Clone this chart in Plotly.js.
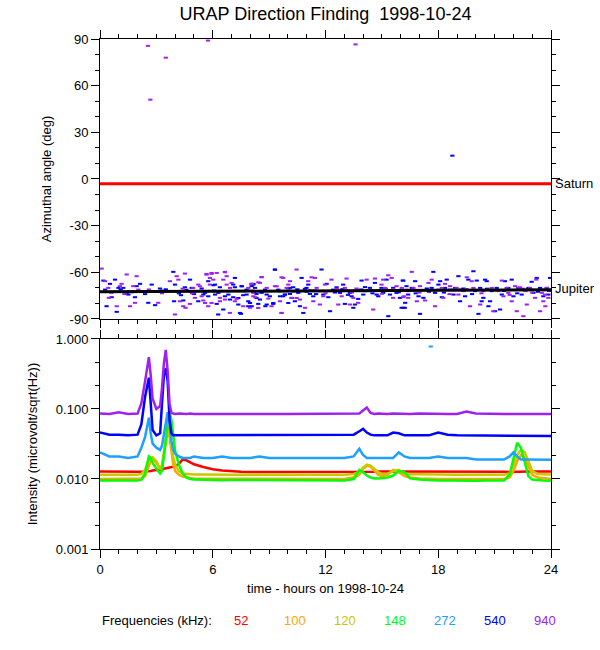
<!DOCTYPE html>
<html>
<head>
<meta charset="utf-8">
<script src="https://cdn.plot.ly/plotly-3.0.1.min.js"></script>
<style>html,body{margin:0;padding:0;background:#fff;}#chart{width:600px;height:650px;}</style>
</head>
<body>
<div id="chart"></div>
<script>
// ---------------- DATA ----------------
const hourTicks = [0, 6, 12, 18, 24];
const angleTicks = [-90, -60, -30, 0, 30, 60, 90];
const angleTickText = ['-90', '-60', '-30', '0', '30', '60', '90'];
const intensityTicks = [0.001, 0.01, 0.1, 1];
const intensityTickText = ['0.001', '0.010', '0.100', '1.000'];
const intensityMinor = [0.00215, 0.00464, 0.0215, 0.0464, 0.215, 0.464];

const planetHours = [0, 6, 12, 18, 24];
const saturnAngle = [-3, -3, -3, -3, -3];
const jupiterAngle = [-72.5, -72.3, -72.0, -71.6, -71.2];

// direction-finding points [hour, azimuth deg]
const points540 = [
 [0.18,-65.3],[0.80,-64.7],[0.53,-67.4],[0.27,-71.1],[0.98,-70.0],[0.62,-76.0],[0.35,-81.8],[0.89,-85.4],
 [1.24,-70.0],[1.42,-73.2],[1.51,-74.3],[1.86,-76.0],[1.95,-68.9],[2.13,-67.4],[2.22,-72.6],[2.75,-67.9],
 [2.57,-79.6],[2.93,-81.1],[3.19,-70.4],[3.28,-71.7],[3.90,-59.7],[3.99,-67.9],[4.08,-72.1],[3.94,-78.6],
 [4.31,-74.7],[4.43,-78.1],[4.52,-69.6],[4.79,-64.7],[4.88,-70.0],[5.05,-72.1],[5.23,-78.6],[5.41,-70.4],
 [5.59,-73.2],[5.76,-65.7],[6.03,-68.3],[6.12,-74.3],[6.07,-71.7],[6.21,-80.3],[6.29,-87.1],[6.38,-69.6],
 [6.56,-83.9],[6.65,-75.4],[6.83,-72.1],[7.09,-76.0],[7.18,-69.6],[7.36,-80.7],[7.54,-68.9],[7.62,-74.7],
 [7.80,-71.1],[7.89,-78.6],[8.07,-68.9],[8.16,-72.6],[7.50,-86.7],
 [8.16,-67.4],[8.25,-70.0],[8.33,-73.9],[8.78,-71.1],[8.87,-74.3],[9.31,-58.2],[8.42,-80.3],[8.07,-81.8],
 [8.80,-81.8],[9.22,-80.3],[9.49,-71.1],[9.58,-75.4],[9.75,-75.4],[9.84,-74.3],[10.02,-70.4],[10.11,-73.9],
 [10.28,-69.6],[10.37,-78.6],[10.64,-81.8],[10.73,-63.6],[10.82,-86.1],[10.91,-70.6],[10.99,-70.0],[11.08,-67.9],
 [11.17,-73.9],[11.35,-75.4],[11.44,-71.7],[11.70,-72.1],[11.79,-58.2],[11.88,-74.3],[12.06,-67.4],[12.15,-76.0],
 [12.24,-85.0],[12.41,-71.1],[12.59,-69.6],[12.77,-73.2],[12.94,-67.9],[13.03,-80.3],[13.12,-71.7],[13.30,-73.2],
 [13.39,-75.4],[13.48,-82.8],[13.57,-80.7],[13.74,-77.1],[13.92,-65.3],[14.01,-74.3],[14.19,-72.1],[14.36,-70.0],
 [14.63,-66.8],[14.72,-74.3],[14.81,-75.4],[14.98,-70.0],[15.07,-73.2],[15.25,-64.7],[15.34,-88.2],[15.43,-74.3],
 [15.60,-70.0],[15.78,-73.2],[15.96,-76.4],[16.05,-82.8],[16.14,-65.3],[16.22,-82.8],[16.31,-68.9],[16.40,-74.3],
 [16.11,-65.3],[16.24,-79.6],[16.15,-82.8],[16.59,-70.0],[16.77,-65.7],[16.95,-75.4],[17.03,-86.7],[17.21,-76.4],
 [17.39,-70.4],[17.65,-70.0],[17.74,-59.7],[17.83,-73.2],[18.01,-67.9],[18.10,-65.7],[18.19,-76.0],[18.36,-70.0],
 [18.45,-64.7],[18.63,-71.1],[18.81,-74.3],[18.90,-70.0],[19.07,-62.5],[19.16,-78.6],[19.34,-70.4],[19.43,-75.4],
 [19.60,-64.7],[19.87,-59.3],[19.96,-72.1],[20.05,-65.3],[20.14,-86.7],[20.23,-70.0],[20.31,-78.6],[20.40,-76.4],
 [20.49,-64.7],[20.58,-65.7],[20.67,-81.8],[20.76,-78.6],[20.85,-72.1],[21.02,-85.0],[21.11,-70.0],[21.29,-83.9],
 [21.38,-74.3],[21.55,-65.7],[21.73,-70.0],[21.91,-64.7],[22.00,-75.4],[22.26,-70.0],[22.44,-74.3],[22.62,-71.1],
 [22.80,-70.0],[22.97,-66.1],[23.06,-73.2],[23.24,-63.6],[23.42,-70.0],[23.59,-75.4],[23.77,-70.0],[23.86,-74.3],
 [23.95,-63.6],[18.75,15.0],
 [6.12,-67.9],[6.03,-72.2],[6.30,-73.2],[5.50,-74.3],[5.76,-75.4],[7.18,-63.6],[7.09,-67.9],[7.54,-69.0],
 [7.62,-72.2],[7.80,-74.3],[8.16,-67.9],[8.33,-76.5],[8.60,-73.2],[9.04,-75.4],[9.31,-58.3],[9.58,-72.2],
 [9.84,-74.3],[10.11,-70.0],[10.20,-76.5],[10.37,-72.2],[10.55,-73.2],[7.45,-86.1],[7.89,-81.8],[8.87,-80.7],
 [9.22,-79.7],[10.02,-79.7],[6.83,-74.3],[6.92,-77.5],[7.36,-76.5],[7.98,-79.7],[8.51,-77.5],
 [12.5,-73.0],[12.9,-70.8],[13.2,-74.5],[13.9,-71.0],[14.5,-73.5],[15.2,-70.5],[15.9,-72.8],[14.1,-69.5],
 [11.5,-74.0],[11.0,-72.5],[10.5,-70.9],[16.8,-73.5],[17.5,-72.5],[18.3,-73.0],[19.2,-71.0],[19.8,-74.0],
 [20.6,-70.5],[21.5,-72.0],[22.2,-73.5],[22.9,-71.0],[23.3,-72.5],[23.9,-72.0],[0.6,-73.0],[1.1,-71.0],
 [1.7,-72.8],[2.4,-74.0],[3.5,-70.9],[4.2,-73.5],[4.6,-71.2],[5.0,-74.0]
];
const points940 = [
 [0.09,-57.6],[0.27,-65.7],[0.44,-70.0],[0.47,-76.4],[0.89,-81.8],[1.06,-68.9],[1.15,-67.4],[1.42,-61.4],
 [1.60,-81.8],[1.77,-68.9],[1.95,-62.5],[2.04,-71.1],[1.86,-79.6],[3.10,-79.6],[3.72,-65.7],[4.08,-62.5],
 [4.17,-64.7],[4.26,-78.6],[4.52,-60.8],[4.55,-82.8],[4.79,-80.3],[4.96,-70.0],[5.05,-76.4],[5.23,-67.9],
 [5.50,-78.1],[5.67,-61.0],[5.85,-63.6],[5.94,-61.0],[5.76,-81.8],[6.03,-64.7],[6.21,-60.4],[6.38,-76.4],
 [6.65,-59.7],[6.74,-62.5],[6.91,-86.1],[7.00,-66.8],[7.18,-78.6],[7.36,-72.1],[7.62,-81.8],[7.89,-70.0],
 [7.98,-82.8],[8.07,-67.4],[8.16,-75.4],[3.99,-87.1],[4.43,-81.8],
 [8.05,-67.4],[8.27,-76.0],[8.51,-66.8],[8.60,-63.2],[8.96,-76.9],[9.13,-81.8],[9.31,-68.9],[9.66,-63.2],
 [9.93,-70.0],[10.11,-65.7],[10.20,-76.4],[10.46,-58.2],[10.64,-77.5],[10.82,-72.1],[10.91,-82.8],[11.08,-65.7],
 [11.26,-63.2],[11.35,-78.6],[11.44,-63.6],[11.53,-70.0],[11.70,-80.7],[11.88,-75.4],[11.97,-67.9],[12.32,-64.7],
 [12.68,-80.7],[12.86,-75.4],[13.03,-70.0],[13.12,-64.0],[13.30,-80.7],[13.48,-76.4],[13.65,-70.4],[13.74,-79.6],
 [14.01,-72.1],[14.19,-64.7],[14.45,-72.1],[14.54,-83.9],[14.63,-64.0],[14.98,-67.9],[15.07,-64.7],[15.16,-70.0],
 [15.34,-61.9],[15.52,-63.6],[15.60,-76.4],[15.78,-68.9],[16.05,-71.1],[16.14,-76.0],[16.31,-71.1],[16.40,-76.4],
 [9.66,-86.1],
 [16.06,-70.0],[16.17,-75.4],[16.41,-72.1],[16.59,-59.7],[16.68,-70.0],[16.86,-78.6],[17.03,-68.9],[17.30,-78.1],
 [17.48,-66.8],[17.65,-64.7],[17.83,-81.8],[18.01,-71.1],[18.19,-70.0],[18.27,-76.4],[18.36,-67.4],[18.63,-68.9],
 [18.81,-71.1],[18.98,-70.0],[19.07,-74.3],[19.34,-72.1],[19.52,-63.2],[19.69,-81.8],[19.78,-65.7],[19.87,-70.0],
 [20.23,-80.7],[20.40,-72.1],[20.67,-71.1],[20.85,-70.0],[20.93,-85.0],[21.20,-72.1],[21.38,-65.3],[21.47,-75.4],
 [21.64,-70.0],[21.73,-73.2],[21.91,-78.6],[22.09,-68.9],[22.18,-85.0],[22.28,-70.0],[22.35,-69.6],[22.53,-88.2],
 [22.64,-72.1],[22.71,-80.7],[22.88,-70.0],[23.15,-76.4],[23.22,-64.7],[23.42,-85.0],[23.51,-73.2],[23.59,-78.6],
 [23.68,-74.3],[23.79,-70.0],[23.86,-76.4],[23.70,-81.8],
 [2.55,85.6],[2.68,51.0],[3.50,78.0],[5.75,89.0],[13.60,86.5],
 [5.67,-61.5],[5.94,-60.4],[6.65,-60.0],[6.56,-64.7],[5.32,-69.0],[5.85,-67.9],[6.74,-67.9],[6.92,-70.0],
 [5.59,-79.7],[5.94,-79.7],[6.38,-78.6],[6.65,-77.5],[7.27,-77.1],[8.42,-66.4],[8.60,-63.0],[8.87,-70.0],
 [9.40,-69.0],[9.75,-63.6],[10.02,-67.9],[10.28,-72.2],[10.46,-76.5],[9.58,-78.6],[8.16,-73.2],[8.42,-82.9],
 [9.66,-86.1],[5.41,-75.4],
 [0.8,-72.5],[1.3,-74.0],[2.6,-71.0],[3.3,-73.5],[4.4,-70.5],[4.9,-73.5],[11.2,-71.5],[12.0,-73.5],
 [12.6,-70.5],[13.4,-73.0],[14.3,-71.5],[15.0,-73.8],[15.6,-70.8],[17.0,-73.0],[17.8,-71.5],[18.6,-74.0],
 [19.5,-70.7],[20.3,-73.5],[21.0,-71.8],[21.8,-74.5],[22.5,-70.5],[23.0,-73.0],[23.6,-71.5]
];

// intensity time base (hours)
const hours = [0,0.5,1,1.5,2, 2.2,2.4,2.5,2.6,2.7,2.8, 3.0,3.2,3.3,3.4,3.5,3.6,3.7,3.8,3.9,
 4.0,4.2,4.4,4.6,4.8,5.0, 5.5,6,6.5,7,7.5,8,8.5,9,9.5,10, 10.5,11,11.5,12,12.5,13,13.5,
 13.8,14.0,14.2,14.4,14.6,14.8,15.0, 15.3,15.6,15.9,16.2,16.5, 17,17.5,18,18.5,19,19.5,20,20.5,21,21.5,
 21.8,22.0,22.2,22.4,22.6,22.8,23.0, 23.3,23.6,24];

const int52 = [0.0128,0.0127,0.0127,0.0127,0.0127, 0.0127,0.0127,0.0128,0.0128,0.0130,0.0132,
 0.0133,0.0135,0.0137,0.0140,0.0142,0.0144,0.0146,0.0148,0.0150, 0.0152,0.0165,0.0190,0.0185,0.0172,0.0162,
 0.0148,0.0138,0.0132,0.0128,0.0127,0.0126,0.0126,0.0125,0.0125,0.0125, 0.0124,0.0124,0.0124,0.0124,0.0125,0.0125,0.0125,
 0.0125,0.0125,0.0126,0.0126,0.0127,0.0128,0.0127, 0.0128,0.0128,0.0128,0.0129,0.0128,
 0.0128,0.0130,0.0129,0.0129,0.0128,0.0128,0.0129,0.0128,0.0128,0.0127,
 0.0126,0.0127,0.0128,0.0129,0.0128,0.0128,0.0128, 0.0129,0.0128,0.0128];
const int100 = [0.0100,0.0100,0.0100,0.0100,0.0100, 0.0102,0.011,0.013,0.016,0.018,0.019,
 0.017,0.014,0.015,0.022,0.035,0.050,0.040,0.025,0.016, 0.013,0.0115,0.0108,0.0105,0.0103,0.0102,
 0.0102,0.0101,0.0100,0.0100,0.0100,0.0100,0.0100,0.0100,0.0100,0.0100, 0.0100,0.0100,0.0100,0.0100,0.0100,0.0100,0.0105,
 0.0115,0.014,0.0155,0.015,0.013,0.0115,0.011, 0.0115,0.0135,0.0125,0.011,0.0105,
 0.0102,0.0100,0.0100,0.0100,0.0100,0.0100,0.0100,0.0100,0.0100,0.0100,
 0.0105,0.013,0.018,0.022,0.020,0.015,0.0115, 0.0105,0.0102,0.0100];
const int120 = [0.0115,0.0115,0.0115,0.0115,0.0115, 0.0118,0.0135,0.016,0.019,0.020,0.0205,
 0.018,0.014,0.016,0.024,0.040,0.055,0.045,0.030,0.020, 0.016,0.013,0.012,0.0118,0.0117,0.0116,
 0.0116,0.0115,0.0115,0.0115,0.0115,0.0115,0.0115,0.0115,0.0115,0.0115, 0.0115,0.0115,0.0115,0.0115,0.0115,0.0115,0.0118,
 0.0125,0.0145,0.016,0.0155,0.014,0.0125,0.0118, 0.0118,0.0130,0.0135,0.0120,0.0117,
 0.0117,0.0116,0.0116,0.0115,0.0115,0.0115,0.0115,0.0115,0.0115,0.0115,
 0.0120,0.016,0.022,0.026,0.024,0.018,0.013, 0.0118,0.0116,0.0116];
const int148 = [0.0095,0.0095,0.0095,0.0095,0.0095, 0.0098,0.012,0.016,0.021,0.020,0.017,
 0.014,0.012,0.013,0.020,0.035,0.060,0.090,0.070,0.040, 0.025,0.016,0.012,0.0105,0.0100,0.0098,
 0.0097,0.0096,0.0096,0.0097,0.0097,0.0096,0.0095,0.0095,0.0095,0.0095, 0.0095,0.0095,0.0095,0.0095,0.0095,0.0095,0.0100,
 0.0135,0.0125,0.0112,0.0105,0.0102,0.0102,0.0103, 0.0105,0.0112,0.0130,0.0125,0.0102,
 0.0098,0.0096,0.0095,0.0095,0.0094,0.0094,0.0094,0.0095,0.0095,0.0095,
 0.0115,0.020,0.033,0.028,0.017,0.011,0.0098, 0.0096,0.0095,0.0094];
const int272 = [0.024,0.021,0.021,0.020,0.021, 0.028,0.040,0.055,0.075,0.045,0.032,
 0.028,0.026,0.030,0.045,0.070,0.090,0.060,0.035,0.026, 0.023,0.021,0.020,0.020,0.020,0.021,
 0.020,0.020,0.021,0.020,0.020,0.020,0.021,0.020,0.020,0.020, 0.020,0.020,0.020,0.020,0.020,0.020,0.021,
 0.027,0.022,0.020,0.020,0.020,0.020,0.020, 0.020,0.020,0.024,0.021,0.020,
 0.020,0.020,0.021,0.020,0.020,0.020,0.019,0.019,0.019,0.019,
 0.021,0.024,0.021,0.019,0.019,0.019,0.019, 0.0188,0.0188,0.0188];
const int540 = [0.046,0.043,0.043,0.042,0.043, 0.06,0.15,0.22,0.28,0.12,0.05,
 0.042,0.045,0.12,0.30,0.38,0.25,0.07,0.045,0.042, 0.042,0.042,0.043,0.042,0.042,0.043,
 0.042,0.043,0.042,0.042,0.043,0.042,0.042,0.043,0.042,0.042, 0.042,0.043,0.042,0.042,0.042,0.042,0.043,
 0.048,0.052,0.046,0.043,0.042,0.042,0.042, 0.042,0.046,0.045,0.042,0.042,
 0.042,0.042,0.046,0.043,0.042,0.042,0.042,0.042,0.042,0.041,
 0.041,0.041,0.041,0.041,0.041,0.041,0.041, 0.041,0.041,0.041];
const int940 = [0.086,0.085,0.090,0.085,0.086, 0.12,0.25,0.40,0.55,0.30,0.14,
 0.10,0.11,0.20,0.45,0.70,0.35,0.12,0.088,0.086, 0.085,0.086,0.085,0.085,0.086,0.085,
 0.085,0.086,0.085,0.085,0.086,0.085,0.085,0.086,0.085,0.085, 0.085,0.086,0.085,0.085,0.086,0.085,0.085,
 0.086,0.095,0.105,0.088,0.085,0.086,0.085, 0.085,0.086,0.085,0.085,0.085,
 0.086,0.085,0.086,0.085,0.085,0.092,0.086,0.085,0.085,0.085,
 0.085,0.085,0.086,0.085,0.085,0.085,0.086, 0.085,0.085,0.085];
const outlier272Hour = [17.6];
const outlier272Value = [0.78];

const freqLabels = ['52', '100', '120', '148', '272', '540', '940'];
const freqColors = ['#ff0000', '#ffa500', '#c8c800', '#00ff00', '#1ea0ff', '#0000ff', '#a020f0'];
const intensitySeries = [int52, int100, int120, int148, int272, int540, int940];

// ---------------- CHART ----------------
const FONT = '"Liberation Sans", Arial, Helvetica, sans-serif';
const traces = [];

function dashMarker(color) {
  return {symbol: 'line-ew', size: 3, color: color, line: {color: color, width: 2}};
}

traces.push({x: points540.map(p => p[0]), y: points540.map(p => p[1]), xaxis: 'x', yaxis: 'y',
  mode: 'markers', type: 'scatter', marker: dashMarker(freqColors[5]), hoverinfo: 'skip'});
traces.push({x: points940.map(p => p[0]), y: points940.map(p => p[1]), xaxis: 'x', yaxis: 'y',
  mode: 'markers', type: 'scatter', marker: dashMarker(freqColors[6]), hoverinfo: 'skip'});
traces.push({x: planetHours, y: saturnAngle, xaxis: 'x', yaxis: 'y', mode: 'lines', type: 'scatter',
  line: {color: '#ff0000', width: 3}, hoverinfo: 'skip'});
traces.push({x: planetHours, y: jupiterAngle, xaxis: 'x', yaxis: 'y', mode: 'lines', type: 'scatter',
  line: {color: '#000000', width: 3}, hoverinfo: 'skip'});

intensitySeries.forEach((vals, i) => {
  traces.push({x: hours, y: vals, xaxis: 'x2', yaxis: 'y2', mode: 'lines', type: 'scatter',
    line: {color: freqColors[i], width: 2.5}, hoverinfo: 'skip'});
});
traces.push({x: outlier272Hour, y: outlier272Value, xaxis: 'x2', yaxis: 'y2', mode: 'markers', type: 'scatter',
  marker: dashMarker(freqColors[4]), hoverinfo: 'skip'});

const L = 100, R = 49, T = 39, B = 101, W = 600, H = 650;
const plotW = W - L - R;
const legendY = -(620 - (H - B)) / (H - T - B);
const annotations = [
  {text: 'Saturn', xref: 'paper', yref: 'y', x: 1, xshift: 2, y: saturnAngle[saturnAngle.length - 1],
   xanchor: 'left', yanchor: 'middle', showarrow: false, font: {size: 13, color: 'black'}},
  {text: 'Jupiter', xref: 'paper', yref: 'y', x: 1, xshift: 2, y: jupiterAngle[jupiterAngle.length - 1],
   yshift: 1, xanchor: 'left', yanchor: 'middle', showarrow: false, font: {size: 13, color: 'black'}},
  {text: 'Frequencies (kHz):', xref: 'paper', yref: 'paper', x: 0, y: legendY,
   xanchor: 'left', yanchor: 'middle', showarrow: false, font: {size: 13, color: 'black'}}
];
freqLabels.forEach((lab, i) => {
  annotations.push({text: lab, xref: 'paper', yref: 'paper', x: (232 + 50 * i - L) / plotW,
    y: legendY, xanchor: 'left', yanchor: 'middle', showarrow: false,
    font: {size: 13, color: freqColors[i]}});
});

const axisCommon = {showline: true, linecolor: 'black', linewidth: 1, mirror: 'ticks', ticks: 'outside',
  tickcolor: 'black', tickwidth: 1, ticklen: 8, showgrid: false, zeroline: false, fixedrange: true};

const layout = {
  width: W, height: H,
  margin: {l: L, r: R, t: T, b: B},
  paper_bgcolor: 'white', plot_bgcolor: 'white',
  showlegend: false,
  font: {family: FONT, size: 13, color: 'black'},
  title: {text: 'URAP Direction Finding  1998-10-24', font: {size: 18, color: 'black'},
    x: 0.5, xref: 'paper', xanchor: 'center', y: 1 - 14 / H, yref: 'container', yanchor: 'middle'},
  xaxis: Object.assign({}, axisCommon, {domain: [0, 1], anchor: 'y', range: [0, 24], tickvals: hourTicks,
    showticklabels: false, minor: {dtick: 1, tick0: 0, ticklen: 4, ticks: 'outside', tickcolor: 'black'}}),
  yaxis: Object.assign({}, axisCommon, {domain: [0.451, 1], anchor: 'x', range: [-90, 90],
    tickvals: angleTicks, ticktext: angleTickText,
    minor: {dtick: 10, tick0: 0, ticklen: 4, ticks: 'outside', tickcolor: 'black'},
    title: {text: 'Azimuthal angle (deg)', font: {size: 13}, standoff: 15}}),
  xaxis2: Object.assign({}, axisCommon, {domain: [0, 1], anchor: 'y2', range: [0, 24], tickvals: hourTicks,
    ticktext: hourTicks.map(String),
    minor: {dtick: 1, tick0: 0, ticklen: 4, ticks: 'outside', tickcolor: 'black'},
    title: {text: 'time - hours on 1998-10-24', font: {size: 13}, standoff: 8}}),
  yaxis2: Object.assign({}, axisCommon, {domain: [0, 0.4118], anchor: 'x2', type: 'log', range: [-3, 0],
    tickvals: intensityTicks, ticktext: intensityTickText,
    minor: {tickvals: intensityMinor, ticklen: 4, ticks: 'outside', tickcolor: 'black'},
    title: {text: 'Intensity (microvolt/sqrt(Hz))', font: {size: 13}, standoff: 15}}),
  annotations: annotations
};

Plotly.newPlot('chart', traces, layout, {displayModeBar: false, staticPlot: true});
</script>
</body>
</html>
